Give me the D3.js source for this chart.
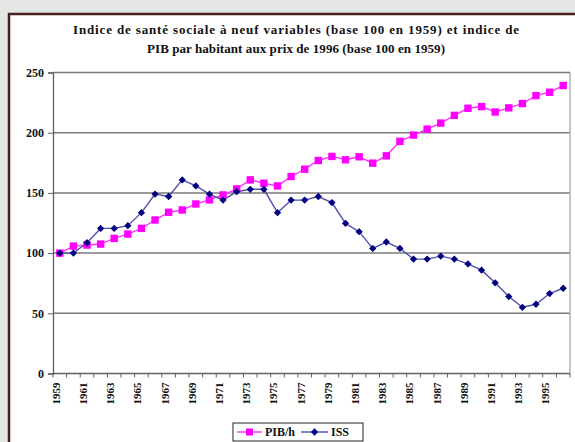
<!DOCTYPE html>
<html><head><meta charset="utf-8">
<script src="https://cdn.jsdelivr.net/npm/d3@7"></script>
<style>
html,body{margin:0;padding:0;background:#e4e6e4;}
svg{display:block;}
svg text{font-family:"Liberation Serif","Tinos","Times New Roman","DejaVu Serif",serif;}
</style></head>
<body>
<svg id="chart" width="575" height="442"></svg>
<script>
const years = ["1959","1960","1961","1962","1963","1964","1965","1966","1967","1968","1969","1970","1971","1972","1973","1974","1975","1976","1977","1978","1979","1980","1981","1982","1983","1984","1985","1986","1987","1988","1989","1990","1991","1992","1993","1994","1995","1996"];
const pibValues = [100,105.8,106.7,107.5,112.2,115.8,120.5,127.5,133.9,135.8,140.8,144.2,148.3,153.3,160.8,158,155.8,163.6,169.7,176.9,180.3,177.5,180,174.7,180.8,192.8,198,203,208,214.4,220.3,221.7,217.2,220.6,224.2,230.8,233.6,239.2];
const issValues = [100,100,108.6,120.5,120.5,122.8,133.6,149,147,160.8,155.8,149,144,151,153,153,133.6,144,144,147,142,124.7,117.8,103.9,109.2,103.9,95,95,97.5,95,91,85.8,75.3,63.9,55,57.5,66.4,70.8];
const yTicks = [0,50,100,150,200,250];
const xLabels = ["1959","1961","1963","1965","1967","1969","1971","1973","1975","1977","1979","1981","1983","1985","1987","1989","1991","1993","1995"];
const titleLines = ["Indice de santé sociale à neuf variables (base 100 en 1959) et indice de","PIB par habitant aux prix de 1996 (base 100 en 1959)"];
const seriesNames = ["PIB/h","ISS"];

const svg = d3.select("#chart");

// panel
svg.append("rect").attr("x",9).attr("y",14).attr("width",600).attr("height",460)
  .attr("fill","#fff").attr("stroke","#4a1f1f").attr("stroke-width",2.5);

const x = d3.scaleBand().domain(years).range([53,570]).padding(0);
const y = d3.scaleLinear().domain([0,250]).range([373.5,72.5]);
const cx = d => x(d) + x.bandwidth()/2;

// title
const titleWidths = [446, 298];
svg.append("g").selectAll("text").data(titleLines).join("text")
  .attr("x",296).attr("y",(d,i)=>34+i*19).attr("text-anchor","middle")
  .attr("textLength",(d,i)=>titleWidths[i]).attr("lengthAdjust","spacing")
  .attr("font-weight","bold").attr("font-size",13).attr("fill","#111")
  .text(d=>d);

// gridlines
svg.append("g").selectAll("line").data(yTicks.filter(v=>v>0)).join("line")
  .attr("x1",53).attr("x2",570).attr("y1",d=>y(d)).attr("y2",d=>y(d))
  .attr("stroke","#7a7a7a").attr("stroke-width",1.5);
// right border of plot
svg.append("line").attr("x1",570).attr("x2",570).attr("y1",y(250)).attr("y2",y(0))
  .attr("stroke","#a0a0a0").attr("stroke-width",1.2);

// y axis
const yAxis = d3.axisLeft(y).tickValues(yTicks).tickSize(5).tickPadding(4).tickFormat(d3.format("d"));
const gy = svg.append("g").attr("transform","translate(53,0)").call(yAxis);
gy.attr("font-family",null);
gy.select(".domain").attr("stroke","#606060").attr("stroke-width",1.3);
gy.selectAll(".tick line").attr("stroke","#606060");
gy.selectAll("text").attr("font-weight","bold").attr("font-size",12).attr("fill","#111");

// x axis baseline and ticks
svg.append("line").attr("x1",53).attr("x2",570).attr("y1",y(0)).attr("y2",y(0))
  .attr("stroke","#606060").attr("stroke-width",1.3);
const bounds = years.map(d=>x(d)).concat([x(years[years.length-1])+x.bandwidth()]);
svg.append("g").selectAll("line").data(bounds).join("line")
  .attr("x1",d=>d).attr("x2",d=>d).attr("y1",y(0)).attr("y2",y(0)+4)
  .attr("stroke","#606060").attr("stroke-width",1);
svg.append("g").selectAll("text").data(xLabels).join("text")
  .attr("transform",d=>`translate(${cx(d)-4},${y(0)+9}) rotate(-90)`)
  .attr("text-anchor","end").attr("dy","0.35em")
  .attr("font-weight","bold").attr("font-size",11).attr("fill","#111")
  .text(d=>d);

// lines
const lineGen = vals => d3.line().x((d,i)=>cx(years[i])).y(d=>y(d))(vals);
svg.append("path").attr("d",lineGen(pibValues)).attr("fill","none").attr("stroke","#ff33ff").attr("stroke-width",1.4);
svg.append("path").attr("d",lineGen(issValues)).attr("fill","none").attr("stroke","#5050a8").attr("stroke-width",1.4);

// markers
svg.append("g").selectAll("rect").data(pibValues).join("rect")
  .attr("x",(d,i)=>cx(years[i])-3.7).attr("y",d=>y(d)-3.7).attr("width",7.4).attr("height",7.4)
  .attr("fill","#ff00ff");
const diamond = d3.symbol().type(d3.symbolDiamond2).size(34);
svg.append("g").selectAll("path").data(issValues).join("path")
  .attr("d",diamond).attr("transform",(d,i)=>`translate(${cx(years[i])},${y(d)})`)
  .attr("fill","#000080");

// legend
const lg = svg.append("g");
lg.append("rect").attr("x",233).attr("y",423).attr("width",130).attr("height",18)
  .attr("fill","#fff").attr("stroke","#222").attr("stroke-width",1);
const ly = 432;
lg.append("line").attr("x1",237).attr("x2",262).attr("y1",ly).attr("y2",ly).attr("stroke","#ff33ff").attr("stroke-width",1.4);
lg.append("rect").attr("x",246).attr("y",ly-3.5).attr("width",7).attr("height",7).attr("fill","#ff00ff");
lg.append("text").attr("x",265).attr("y",ly).attr("dy","0.35em").attr("font-weight","bold").attr("font-size",12).attr("fill","#111").text(seriesNames[0]);
lg.append("line").attr("x1",301).attr("x2",328).attr("y1",ly).attr("y2",ly).attr("stroke","#5050a8").attr("stroke-width",1.4);
lg.append("path").attr("d",diamond).attr("transform",`translate(314.5,${ly})`).attr("fill","#000080");
lg.append("text").attr("x",331).attr("y",ly).attr("dy","0.35em").attr("font-weight","bold").attr("font-size",12).attr("fill","#111").text(seriesNames[1]);
</script>
</body></html>
